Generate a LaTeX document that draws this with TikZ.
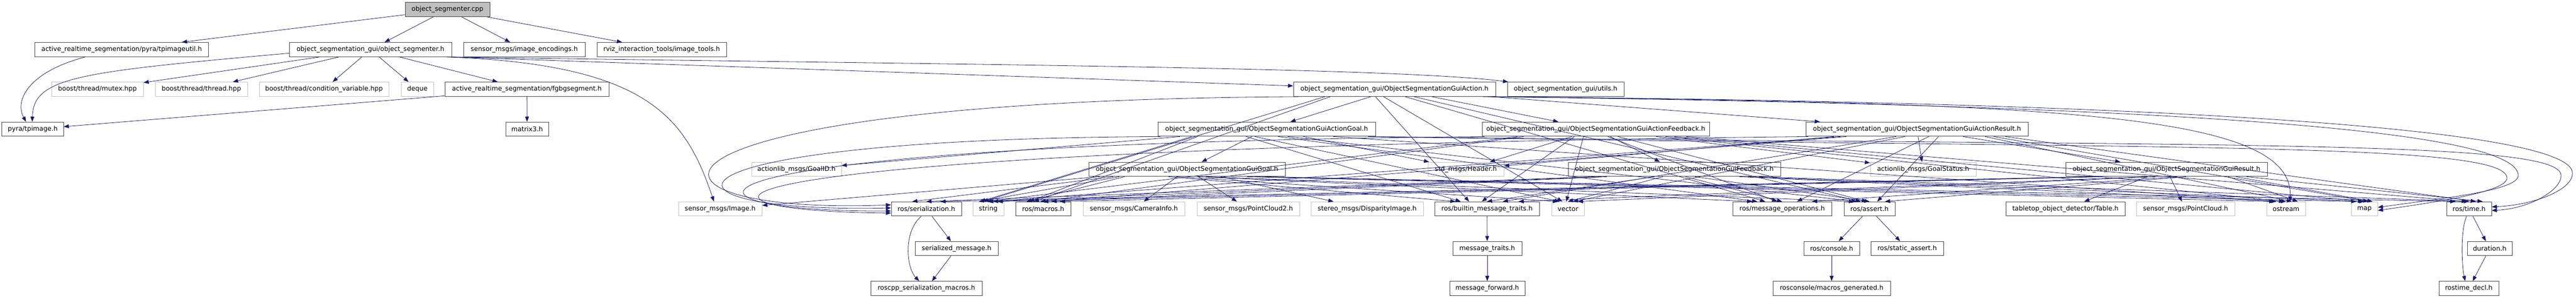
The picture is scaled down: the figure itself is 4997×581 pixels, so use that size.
\documentclass[tikz,border=0pt]{standalone}
\usepackage{fontspec}
\setmainfont{DejaVu Sans}
\usetikzlibrary{arrows.meta,calc}
\definecolor{mblue}{HTML}{191970}
\definecolor{extgray}{HTML}{BFBFBF}
\definecolor{docline}{HTML}{404040}
\tikzset{
 nd/.style={draw=docline, line width=1bp, fill=white, minimum height=27.8bp, inner xsep=1bp, inner ysep=0bp, font=\fontsize{12.6bp}{15bp}\selectfont},
 ext/.style={nd, draw=extgray},
 rootnd/.style={nd, fill=extgray},
 edge/.style={draw=mblue, line width=0.8bp, -{Triangle[length=10bp,width=7.5bp]}},
}
\begin{document}
\begin{tikzpicture}[x=1bp,y=-1bp]
\useasboundingbox (0,0) rectangle (4997,581);
% row 0
\node[rootnd, minimum width=164bp] (root) at (868,18.5) {object\_segmenter.cpp};
% row 1
\node[nd, minimum width=336bp] (tpu) at (236,96.4) {active\_realtime\_segmentation/pyra/tpimageutil.h};
\node[nd, minimum width=315bp] (osh) at (718.5,96.4) {object\_segmentation\_gui/object\_segmenter.h};
\node[nd, minimum width=236bp] (enc) at (1017,96.4) {sensor\_msgs/image\_encodings.h};
\node[nd, minimum width=251bp] (imt) at (1283.5,96.4) {rviz\_interaction\_tools/image\_tools.h};
% row 2
\node[ext, minimum width=178bp] (mutex) at (189,173.5) {boost/thread/mutex.hpp};
\node[ext, minimum width=179bp] (thread) at (390.5,173.5) {boost/thread/thread.hpp};
\node[ext, minimum width=251bp] (cond) at (628.5,173.5) {boost/thread/condition\_variable.hpp};
\node[ext, minimum width=63bp] (deque) at (809.5,173.5) {deque};
\node[nd, minimum width=318bp] (fgbg) at (1022,173.5) {active\_realtime\_segmentation/fgbgsegment.h};
\node[nd, minimum width=392bp] (act) at (2705,173.5) {object\_segmentation\_gui/ObjectSegmentationGuiAction.h};
\node[nd, minimum width=226bp] (utils) at (3037,173.5) {object\_segmentation\_gui/utils.h};
% row 3
\node[nd, minimum width=119bp] (tpi) at (63.5,251) {pyra/tpimage.h};
\node[nd, minimum width=83bp] (mat) at (1022.5,251) {matrix3.h};
\node[nd, minimum width=422bp] (agoal) at (2457,251) {object\_segmentation\_gui/ObjectSegmentationGuiActionGoal.h};
\node[nd, minimum width=441bp] (afb) at (3095.5,251) {object\_segmentation\_gui/ObjectSegmentationGuiActionFeedback.h};
\node[nd, minimum width=431bp] (ares) at (3718.5,251) {object\_segmentation\_gui/ObjectSegmentationGuiActionResult.h};
% row 4
\node[ext, minimum width=174bp] (gid) at (1545,329) {actionlib\_msgs/GoalID.h};
\node[nd, minimum width=381bp] (goal) at (2302.5,329) {object\_segmentation\_gui/ObjectSegmentationGuiGoal.h};
\node[ext, minimum width=147bp] (hdr) at (2843.5,329) {std\_msgs/Header.h};
\node[nd, minimum width=412bp] (fb) at (3248,329) {object\_segmentation\_gui/ObjectSegmentationGuiFeedback.h};
\node[ext, minimum width=205bp] (gst) at (3730.5,329) {actionlib\_msgs/GoalStatus.h};
\node[nd, minimum width=391bp] (res) at (4202.5,329) {object\_segmentation\_gui/ObjectSegmentationGuiResult.h};
% row 5
\node[ext, minimum width=162bp] (img) at (1397,406) {sensor\_msgs/Image.h};
\node[nd, minimum width=136bp] (ser) at (1797,406) {ros/serialization.h};
\node[ext, minimum width=60bp] (str) at (1917,406) {string};
\node[nd, minimum width=107bp] (mac) at (2023.5,406) {ros/macros.h};
\node[ext, minimum width=197bp] (cam) at (2199.5,406) {sensor\_msgs/CameraInfo.h};
\node[ext, minimum width=199bp] (pc2) at (2421.5,406) {sensor\_msgs/PointCloud2.h};
\node[ext, minimum width=218bp] (disp) at (2652,406) {stereo\_msgs/DisparityImage.h};
\node[nd, minimum width=203bp] (bmt) at (2884.5,406) {ros/builtin\_message\_traits.h};
\node[ext, minimum width=63bp] (vec) at (3041.5,406) {vector};
\node[nd, minimum width=192bp] (mop) at (3457,406) {ros/message\_operations.h};
\node[nd, minimum width=99bp] (ass) at (3626.5,406) {ros/assert.h};
\node[nd, minimum width=231bp] (tab) at (4006.5,406) {tabletop\_object\_detector/Table.h};
\node[ext, minimum width=191bp] (pc) at (4239.5,406) {sensor\_msgs/PointCloud.h};
\node[ext, minimum width=75bp] (ost) at (4434.5,406) {ostream};
\node[ext, minimum width=51bp] (map) at (4586.5,406) {map};
\node[nd, minimum width=87bp] (tim) at (4789.5,406) {ros/time.h};
% row 6
\node[nd, minimum width=161bp] (smsg) at (1855.5,483) {serialized\_message.h};
\node[nd, minimum width=134bp] (mtr) at (2885,483) {message\_traits.h};
\node[nd, minimum width=108bp] (con) at (3553,483) {ros/console.h};
\node[nd, minimum width=141bp] (sas) at (3699.5,483) {ros/static\_assert.h};
\node[nd, minimum width=87bp] (dur) at (4829.5,483) {duration.h};
% row 7
\node[nd, minimum width=216bp] (rsm) at (1797,560.6) {roscpp\_serialization\_macros.h};
\node[nd, minimum width=146bp] (mfw) at (2885,560.6) {message\_forward.h};
\node[nd, minimum width=228bp] (mg) at (3553,560.6) {rosconsole/macros\_generated.h};
\node[nd, minimum width=116bp] (rtd) at (4789,560.6) {rostime\_decl.h};

% ---- edges: top part
\draw[edge] (root) -- (tpu);
\draw[edge] (root) -- (osh);
\draw[edge] (root) -- (enc);
\draw[edge] (root) -- (imt);
\draw[edge] ([xshift=-71bp]tpu.south) .. controls (55,140) and (28,195) .. ([xshift=-13bp]tpi.north);
\draw[edge] ([yshift=-7bp]osh.west) .. controls (150,140) and (65,150) .. ([xshift=-1bp]tpi.north);
\draw[edge] (osh) -- (mutex);
\draw[edge] (osh) -- (thread);
\draw[edge] (osh) -- (cond);
\draw[edge] (osh) -- (deque);
\draw[edge] (osh) -- (fgbg);
\draw[edge] ([xshift=148bp]osh.south) .. controls (1260,125) and (1330,230) .. ([xshift=-12bp]img.north);
\draw[edge] (osh.south east) -- (act);
\draw[edge] (osh.south east) .. controls (1800,125) and (2700,130) .. (utils);
\draw[edge] (fgbg) -- (tpi);
\draw[edge] (fgbg) -- (mat);

% ---- message structure
\draw[edge] (act) -- (agoal);
\draw[edge] (act) -- (afb);
\draw[edge] (act) -- (ares);
\draw[edge] (agoal) -- (gid);
\draw[edge] (agoal) -- (hdr);
\draw[edge] (agoal) -- (goal);
\draw[edge] (afb) -- (hdr);
\draw[edge] (afb) -- (gst);
\draw[edge] (afb) -- (fb);
\draw[edge] (ares) -- (hdr);
\draw[edge] (ares) -- (gst);
\draw[edge] (ares) -- (res);
\draw[edge] (goal) -- (img);
\draw[edge] (goal) -- (cam);
\draw[edge] (goal) -- (pc2);
\draw[edge] (goal) -- (disp);
\draw[edge] (res) -- (tab);
\draw[edge] (res) -- (pc);

% ---- common includes of generated message headers
\foreach \s/\q in {goal/0.2, agoal/0.25, act/0.33, afb/0.45, fb/0.5, ares/0.65, res/0.8}{
  \foreach \t/\p in {str/0.156, mac/0.183, bmt/0.406, vec/0.446, mop/0.553, ass/0.597}{
    \draw[edge] ($(\s.south west)!\p!(\s.south east)$) -- ($(\t.north west)!\q!(\t.north east)$);
  }
}
\foreach \s/\q in {goal/0.2, agoal/0.25, afb/0.45, fb/0.5, ares/0.65, res/0.8}{
  \draw[edge] ($(\s.south west)!0.806!(\s.south east)$) -- ($(ost.north west)!\q!(ost.north east)$);
}
\foreach \s/\q in {goal/0.2, afb/0.45, fb/0.5, ares/0.65, res/0.8}{
  \draw[edge] ($(\s.south west)!0.845!(\s.south east)$) -- ($(map.north west)!\q!(map.north east)$);
  \draw[edge] ($(\s.south west)!0.897!(\s.south east)$) -- ($(tim.north west)!\q!(tim.north east)$);
}
\foreach \s/\q in {goal/0.3, fb/0.5, res/0.7}{
  \draw[edge] ($(\s.south west)!0.125!(\s.south east)$) -- ($(ser.north west)!\q!(ser.north east)$);
}
% loops into ros/serialization.h from the left
\draw[edge] ($(act.south west)+(10,0)$) .. controls (1170,195) and (1170,420) .. ([yshift=8bp]ser.west);
\draw[edge] ($(agoal.south west)+(5,0)$) .. controls (1230,270) and (1230,415) .. ([yshift=2bp]ser.west);
\draw[edge] ($(afb.south west)+(5,0)$) .. controls (1240,280) and (1240,412) .. ([yshift=-4bp]ser.west);
\draw[edge] ($(ares.south west)+(5,0)$) .. controls (1250,290) and (1250,410) .. ([yshift=-8bp]ser.west);
% act -> ostream
\draw[edge] ($(act.south east)+(-25,0)$) .. controls (4000,200) and (4450,220) .. ($(ost.north west)!0.6!(ost.north east)$);
% loops into ros/time.h and map from the right
\draw[edge] ($(act.south east)+(-5,0)$) .. controls (4300,200) and (4982,255) .. (4990,335) .. controls (4993,367) and (4920,398) .. ([yshift=4bp]tim.east);
\draw[edge] ($(agoal.south east)+(-5,0)$) .. controls (4300,285) and (4962,270) .. (4968,340) .. controls (4970,368) and (4910,405) .. ([yshift=-3bp]tim.east);
\draw[edge] ($(act.south east)+(-15,0)$) .. controls (4200,205) and (4878,250) .. (4885,340) .. controls (4888,370) and (4740,385) .. ([yshift=3bp]map.east);
\draw[edge] ($(agoal.south east)+(-15,0)$) .. controls (4200,290) and (4856,275) .. (4863,345) .. controls (4866,372) and (4730,392) .. ([yshift=-3bp]map.east);

% ---- library internals
\draw[edge] (ser) -- (smsg);
\draw[edge] ([xshift=-10bp]ser.south) .. controls (1752,450) and (1758,520) .. ([xshift=-14bp]rsm.north);
\draw[edge] (smsg) -- (rsm);
\draw[edge] (bmt) -- (mtr);
\draw[edge] (mtr) -- (mfw);
\draw[edge] (ass) -- (con);
\draw[edge] (ass) -- (sas);
\draw[edge] (con) -- (mg);
\draw[edge] (tim) -- (dur);
\draw[edge] ([xshift=-5bp]tim.south) .. controls (4772,450) and (4776,520) .. ([xshift=-7bp]rtd.north);
\draw[edge] (dur) -- (rtd);
\end{tikzpicture}
\end{document}
